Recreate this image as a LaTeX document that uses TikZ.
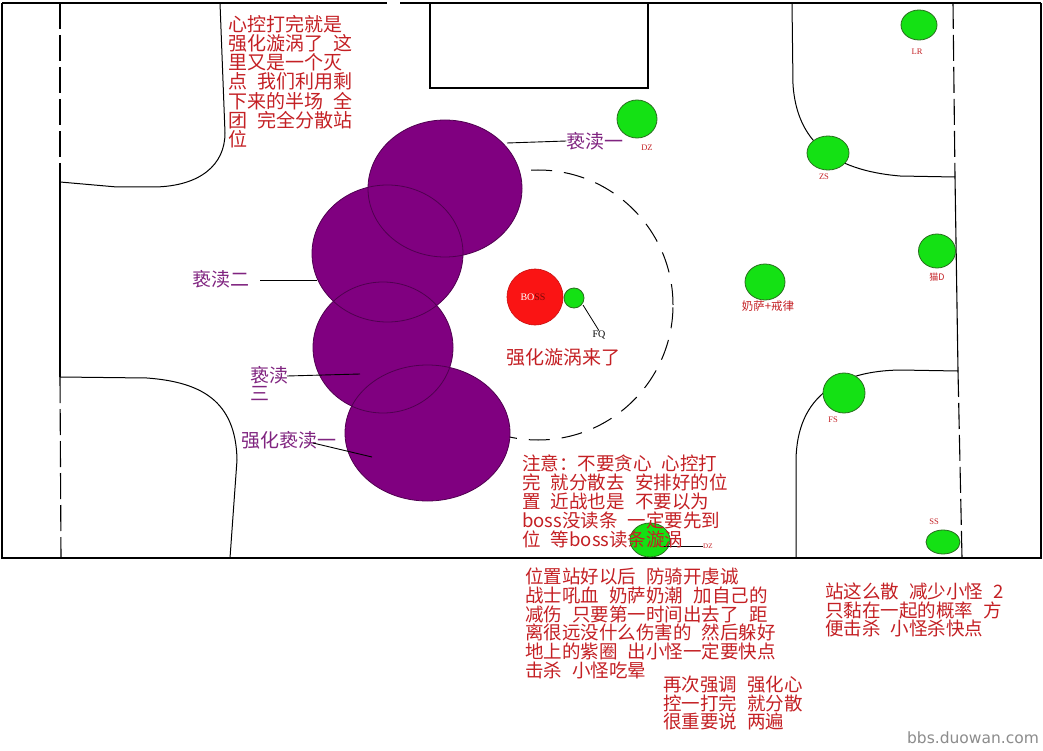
\documentclass[tikz,border=0pt]{standalone}
\usepackage{fontspec}
\setmainfont{Liberation Serif}
\newfontfamily\cjk{Noto Sans CJK SC}
\newfontfamily\wmfont{DejaVu Sans}
\usetikzlibrary{shapes.geometric}
\definecolor{txtred}{RGB}{196,32,36}
\definecolor{ptxt}{RGB}{128,36,128}
\definecolor{desec}{RGB}{128,0,128}
\definecolor{desecdark}{RGB}{80,0,80}
\definecolor{pgreen}{RGB}{20,225,20}
\definecolor{pgreendark}{RGB}{40,110,30}
\definecolor{bossred}{RGB}{250,20,20}
\newcommand\gp{\hspace{0.55em}}
\begin{document}
\begin{tikzpicture}[x=1pt,y=-1pt,
  wall/.style={line width=1.1pt,draw=black},
  dashwall/.style={wall,dash pattern=on 26pt off 6pt},
  vortex/.style={line width=1pt,draw=black,dash pattern=on 21pt off 12pt},
  desecfill/.style={ellipse,fill=desec,inner sep=0pt},
  desecline/.style={ellipse,draw=desecdark,line width=0.8pt,inner sep=0pt},
  player/.style={ellipse,fill=pgreen,draw=pgreendark,line width=0.8pt,inner sep=0pt},
  redtxt/.style={text=txtred,align=left,inner sep=0pt,anchor=north west},
  tag/.style={text=txtred,font=\fontsize{8.5}{9}\selectfont,inner sep=0pt},
  purp/.style={text=ptxt,inner sep=0pt},
  leader/.style={line width=0.9pt,draw=black}]
\useasboundingbox (0,0) rectangle (1043,751);
\fill[white] (0,0) rectangle (1043,751);

% outer walls
\draw[wall] (2,3) -- (387,3);
\draw[wall] (400,3) -- (1041,3);
\draw[wall] (2,3) -- (2,558) -- (1041,558) -- (1041,3);
\draw[wall] (430,3) rectangle (648,88);

% left side
\draw[dashwall] (60,3) -- (60,182);
\draw[wall] (60,182) -- (60,377);
\draw[dashwall] (60,377) -- (61,558);
\draw[line width=1pt] (220,3) -- (225,133) .. controls (225,165) and (200,186) .. (155,187) -- (117,187) -- (60,182);
\draw[line width=1pt] (60,377) -- (147,378) .. controls (200,382) and (236,400) .. (237,460) -- (230,558);

% right side
\draw[dashwall] (953,3) -- (955,177);
\draw[wall] (955,177) -- (958,371);
\draw[dashwall] (958,371) -- (962,558);
\draw[line width=1pt] (792,3) -- (793,85) .. controls (797,140) and (830,170) .. (900,176) -- (955,177);
\draw[line width=1pt] (958,371) -- (900,370) .. controls (840,371) and (797,395) .. (796,460) -- (796,558);

% vortex
\draw[vortex] (538,305) circle [radius=135pt];

% desecration circles
\node[desecfill,minimum width=154pt,minimum height=137pt] (d1) at (445,188.5) {};
\node[desecfill,minimum width=151pt,minimum height=137pt] (d2) at (387.5,253.5) {};
\node[desecfill,minimum width=140pt,minimum height=131pt] (d3) at (383,347.5) {};
\node[desecfill,minimum width=165pt,minimum height=136pt] (d4) at (427.5,433) {};
\node[desecline,minimum width=154pt,minimum height=137pt] (d1o) at (445,188.5) {};
\node[desecline,minimum width=151pt,minimum height=137pt] (d2o) at (387.5,253.5) {};
\node[desecline,minimum width=140pt,minimum height=131pt] (d3o) at (383,347.5) {};
\node[desecline,minimum width=165pt,minimum height=136pt] (d4o) at (427.5,433) {};

% boss and FQ
\node[circle,fill=bossred,draw=bossred!80!black,line width=0.6pt,minimum size=56pt,inner sep=0pt] (boss) at (535,297) {};
\node[inner sep=0pt,font=\fontsize{10}{10}\selectfont] (bosst) at (533,297) {\textcolor{white}{BO}\textcolor{bossred!50!black}{SS}};
\node[player,minimum width=20pt,minimum height=20pt] (fq) at (574,298) {};
\node[inner sep=0pt,font=\fontsize{10}{10}\selectfont] (fqt) at (599,335) {FQ};
\coordinate (fqa) at (583,305);
\draw[line width=0.8pt] (fqa) -- (fqt.north);

% players
\node[player,minimum width=40pt,minimum height=38pt] (dz1) at (637,119) {};
\node[player,minimum width=36pt,minimum height=30pt] (lr) at (919,25) {};
\node[player,minimum width=42pt,minimum height=34pt] (zs) at (828,153) {};
\node[player,minimum width=37pt,minimum height=34pt] (mao) at (937,251) {};
\node[player,minimum width=40pt,minimum height=36pt] (ns) at (765,282) {};
\node[player,minimum width=42pt,minimum height=40pt] (fs) at (844,393) {};
\node[player,minimum width=34pt,minimum height=24pt] (ss) at (943,542) {};
\node[player,minimum width=40pt,minimum height=34pt] (dz2) at (650,540) {};

\node[tag] (dz1t) at (647,148) {DZ};
\node[tag] (lrt) at (917,52) {LR};
\node[tag] (zst) at (824,177) {ZS};
\node[tag,font=\cjk\fontsize{9}{9}\selectfont] (maot) at (937,277) {猫D};
\node[tag,font=\cjk\fontsize{11.5}{12}\selectfont] (nst) at (768,306) {奶萨+戒律};
\node[tag] (fst) at (833,420) {FS};
\node[tag] (sst) at (934,522) {SS};
\node[tag,font=\fontsize{7}{7}\selectfont,anchor=west] (dz2t) at (703,546) {DZ};
\coordinate (dz2a) at (660,546);
\draw[line width=0.8pt] (dz2a) -- (dz2t.west);

% purple labels and leaders
\node[purp,font=\cjk\fontsize{19}{19}\selectfont] (t1) at (595,141) {亵渎一};
\coordinate (l1a) at (507,143);
\draw[leader] (l1a) -- (t1.west);

\node[purp,font=\cjk\fontsize{19}{19}\selectfont] (t2) at (221,279) {亵渎二};
\coordinate (l2a) at (260,280);
\coordinate (l2b) at (317,280);
\draw[leader] (l2a) -- (l2b);

\node[purp,font=\cjk\fontsize{19}{18.5}\selectfont,align=left,anchor=north west] (t3) at (250,366) {亵渎\\三};
\coordinate (l3a) at (287,376);
\coordinate (l3b) at (360,374);
\draw[leader] (l3a) -- (l3b);

\node[purp,font=\cjk\fontsize{19}{19}\selectfont] (t4) at (289,440) {强化亵渎一};
\coordinate (l4a) at (313,443);
\coordinate (l4b) at (372,457);
\draw[leader] (l4a) -- (l4b);

% red notes
\node[redtxt,font=\cjk\fontsize{19}{19.2}\selectfont] (n1) at (228,15) {心控打完就是\\强化漩涡了\gp 这\\里又是一个灭\\点\gp 我们利用剩\\下来的半场\gp 全\\团\gp 完全分散站\\位};

\node[text=txtred,inner sep=0pt,font=\cjk\fontsize{19}{19}\selectfont] (n2) at (563,357) {强化漩涡来了};

\node[redtxt,font=\cjk\fontsize{18.5}{18.8}\selectfont] (n3) at (522,455) {注意：不要贪心\gp 心控打\\完\gp 就分散去\gp 安排好的位\\置\gp 近战也是\gp 不要以为\\boss没读条\gp 一定要先到\\位\gp 等boss读条漩涡};

\node[redtxt,font=\cjk\fontsize{18.5}{18.7}\selectfont] (n4) at (525,568) {位置站好以后\gp 防骑开虔诚\\战士吼血\gp 奶萨奶潮\gp 加自己的\\减伤\gp 只要第一时间出去了\gp 距\\离很远没什么伤害的\gp 然后躲好\\地上的紫圈\gp 出小怪一定要快点\\击杀\gp 小怪吃晕};

\node[redtxt,font=\cjk\fontsize{18.5}{18.5}\selectfont] (n5) at (663,676) {再次强调\gp 强化心\\控一打完\gp 就分散\\很重要说\gp 两遍};

\node[redtxt,font=\cjk\fontsize{18.5}{18.2}\selectfont] (n6) at (825,583) {站这么散\gp 减少小怪\gp 2\\只黏在一起的概率\gp 方\\便击杀\gp 小怪杀快点};

% watermark
\node[inner sep=0pt,text=black!45,font=\wmfont\fontsize{15.5}{15.5}\selectfont] (wm) at (973,738) {bbs.duowan.com};
\end{tikzpicture}
\end{document}
